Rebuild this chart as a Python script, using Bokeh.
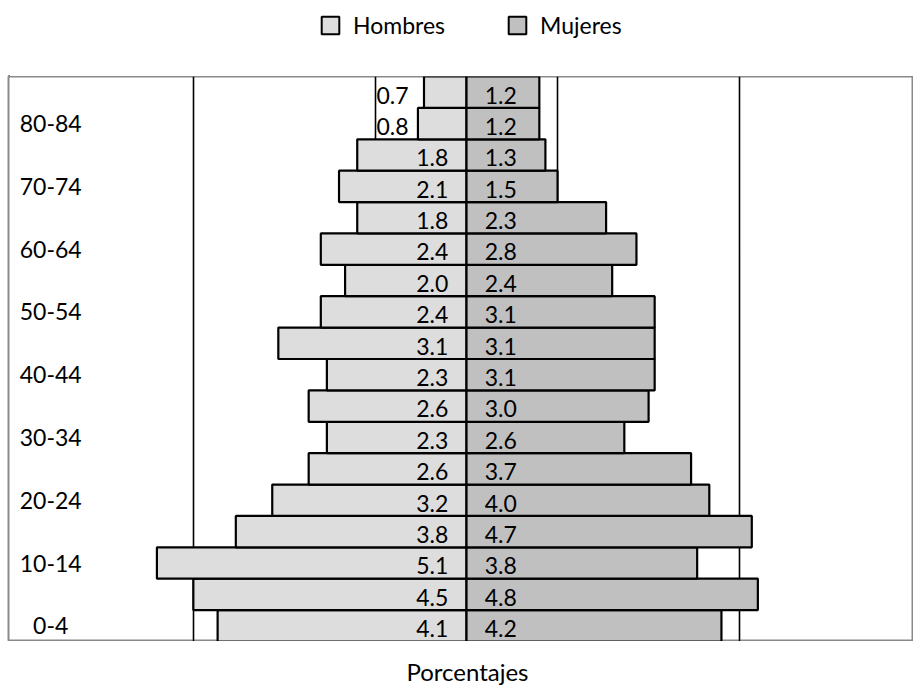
from bokeh.plotting import figure
from bokeh.models import ColumnDataSource, FixedTicker, Legend, LegendItem, Range1d
from bokeh.layouts import column
from bokeh.embed import file_html
from bokeh.resources import INLINE
from bokeh.core.properties import value

# ---- data ----
ages = ["0-4", "5-9", "10-14", "15-19", "20-24", "25-29", "30-34", "35-39", "40-44",
        "45-49", "50-54", "55-59", "60-64", "65-69", "70-74", "75-79", "80-84", "85+"]
hombres = [4.1, 4.5, 5.1, 3.8, 3.2, 2.6, 2.3, 2.6, 2.3, 3.1, 2.4, 2.0, 2.4, 1.8, 2.1, 1.8, 0.8, 0.7]
mujeres = [4.2, 4.8, 3.8, 4.7, 4.0, 3.7, 2.6, 3.0, 3.1, 3.1, 3.1, 2.4, 2.8, 2.3, 1.5, 1.3, 1.2, 1.2]
grid_ticks = [-4.5, -1.5, 1.5, 4.5]
series_names = ["Hombres", "Mujeres"]
x_title = "Porcentajes"

FONT_NAME = "Lato"
FONT = value(FONT_NAME)
FS = "23px"
MEN_COLOR = "#DDDDDD"
WOMEN_COLOR = "#C0C0C0"
W = 913


def bare(fig):
    fig.axis.visible = False
    fig.grid.visible = False
    fig.outline_line_color = None
    fig.background_fill_color = "white"
    fig.border_fill_color = "white"
    return fig


# ---------------- legend strip ----------------
leg = bare(figure(width=W, height=76, output_backend="svg", toolbar_location=None,
                  x_range=Range1d(0, W), y_range=Range1d(0, 76), min_border=0))
# legend-only renderers (their single bar lies outside the visible range)
dummy = ColumnDataSource(dict(y=[-1000], l=[0], r=[1]))
lr_men = leg.hbar(y="y", left="l", right="r", height=1, source=dummy,
                  fill_color=MEN_COLOR, line_color="black", line_width=2)
lr_women = leg.hbar(y="y", left="l", right="r", height=1, source=dummy,
                    fill_color=WOMEN_COLOR, line_color="black", line_width=2)
for r, name, xpos in [(lr_men, series_names[0], 311), (lr_women, series_names[1], 498)]:
    lg = Legend(items=[LegendItem(label=name, renderers=[r])], location=(xpos, 37),
                orientation="horizontal", padding=0, margin=0, border_line_color=None,
                background_fill_alpha=0, glyph_width=22, glyph_height=22, label_standoff=12,
                label_text_font=FONT_NAME, label_text_font_size=FS, label_text_color="black")
    leg.add_layout(lg, "center")

# ---------------- main pyramid ----------------
p = figure(width=W, height=565, output_backend="svg", toolbar_location=None,
           x_range=Range1d(-7.545, 7.364), y_range=Range1d(-0.5, 17.5),
           min_border_left=8, min_border_right=0, min_border_top=0, min_border_bottom=0)
p.axis.visible = False
p.ygrid.visible = False
p.xgrid.ticker = FixedTicker(ticks=grid_ticks)
p.xgrid.grid_line_color = "black"
p.xgrid.grid_line_width = 1.6
p.outline_line_color = "#8A8A8A"
p.outline_line_width = 2
p.background_fill_color = "white"
p.border_fill_color = "white"

ys = list(range(len(ages)))
src = ColumnDataSource(dict(
    y=ys,
    men_left=[-v for v in hombres],
    women_right=mujeres,
))
p.hbar(y="y", left="men_left", right=0, height=1, source=src,
       fill_color=MEN_COLOR, line_color="black", line_width=2.2)
p.hbar(y="y", left=0, right="women_right", height=1, source=src,
       fill_color=WOMEN_COLOR, line_color="black", line_width=2.2)

# data labels: sit in the lower part of each bar
LBL_DY = -0.5 + 0.41
men_big = [i for i, v in enumerate(hombres) if v >= 1]
men_small = [i for i, v in enumerate(hombres) if v < 1]
src_mb = ColumnDataSource(dict(y=[i + LBL_DY for i in men_big], x=[-0.3] * len(men_big),
                               t=["%.1f" % hombres[i] for i in men_big]))
src_ms = ColumnDataSource(dict(y=[i + LBL_DY for i in men_small], x=[-1.5] * len(men_small),
                               t=["%.1f" % hombres[i] for i in men_small]))
src_w = ColumnDataSource(dict(y=[i + LBL_DY for i in ys], x=[0.3] * len(ys),
                              t=["%.1f" % v for v in mujeres]))
common = dict(text="t", text_font=FONT, text_font_size=FS, text_color="black",
              text_baseline="middle")
p.text(x="x", y="y", source=src_mb, text_align="right", **common)
p.text(x="x", y="y", source=src_ms, text_align="left", x_offset=1, **common)
p.text(x="x", y="y", source=src_w, text_align="left", **common)

# age labels (every other one)
src_age = ColumnDataSource(dict(y=ys[::2], x=[-6.85] * len(ys[::2]), t=ages[::2]))
p.text(x="x", y="y", text="t", source=src_age, text_align="center", text_baseline="middle",
       text_font=FONT, text_font_size=FS, text_color="black")

# ---------------- x axis title strip ----------------
tit = bare(figure(width=W, height=44, output_backend="svg", toolbar_location=None,
                  x_range=Range1d(0, W), y_range=Range1d(0, 44), min_border=0))
src_title = ColumnDataSource(dict(x=[463], y=[14], t=[x_title]))
tit.text(x="x", y="y", text="t", source=src_title, text_align="center",
         text_baseline="middle", text_font=FONT, text_font_size="24px", text_color="black")

page = column(leg, p, tit, spacing=0)
open("out.html", "w").write(file_html(page, INLINE))
